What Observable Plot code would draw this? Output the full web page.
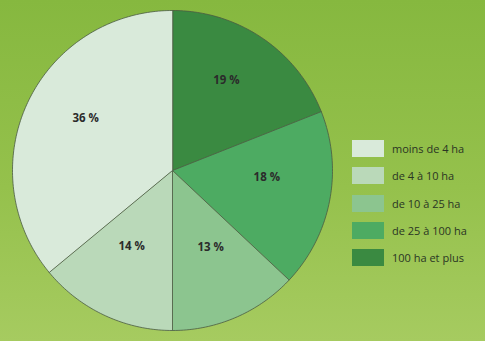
<!DOCTYPE html>
<html>
<head>
<meta charset="utf-8">
<script src="https://cdn.jsdelivr.net/npm/d3@7"></script>
<script src="https://cdn.jsdelivr.net/npm/@observablehq/plot@0.6"></script>
<style>
  html, body { margin: 0; padding: 0; }
  body { width: 485px; height: 341px; overflow: hidden;
    background: linear-gradient(to bottom, #86b83f 0%, #95c14c 55%, #a6cb60 100%); position: relative; }
  #chart { position: absolute; left: 0; top: 0; }
  #legend { position: absolute; left: 352px; top: 140px; font-family: "Open Sans", sans-serif; font-size: 11px; color: #2a3524; }
  .row { display: flex; align-items: center; height: 17px; margin-bottom: 10.3px; }
  .sw { width: 32px; height: 17px; margin-right: 8px; box-sizing: border-box; }
</style>
</head>
<body>
<div id="chart"></div>
<div id="legend"></div>
<script>
// Data (clockwise from 12 o'clock)
const categories = ["100 ha et plus", "de 25 à 100 ha", "de 10 à 25 ha", "de 4 à 10 ha", "moins de 4 ha"];
const values = [19, 18, 13, 14, 36];
const legendOrder = ["moins de 4 ha", "de 4 à 10 ha", "de 10 à 25 ha", "de 25 à 100 ha", "100 ha et plus"];
const colors = ["#3a8a41", "#4dab62", "#8cc58f", "#bad9b9", "#d9eada"];

const W = 485, H = 341, R = 160, CX = 172, CY = 170;
const total = d3.sum(values);

// Build slice outlines in unit-circle coordinates
const slices = [];
const labels = [];
let acc = 0;
categories.forEach((c, i) => {
  const a0 = acc / total * 2 * Math.PI;
  acc += values[i];
  const a1 = acc / total * 2 * Math.PI;
  slices.push({cat: c, x: 0, y: 0});
  const n = Math.max(2, Math.ceil((a1 - a0) / (Math.PI / 180)));
  for (let k = 0; k <= n; k++) {
    const a = a0 + (a1 - a0) * k / n;
    slices.push({cat: c, x: Math.sin(a), y: Math.cos(a)});
  }
  const am = (a0 + a1) / 2;
  const rl = 0.6;
  labels.push({cat: c, text: values[i] + " %", x: rl * Math.sin(am), y: rl * Math.cos(am)});
});

const plot = Plot.plot({
  width: W, height: H,
  margin: 0,
  style: {background: "transparent", overflow: "visible"},
  x: {domain: [-CX / R, (W - CX) / R], axis: null},
  y: {domain: [-(H - CY) / R, CY / R], axis: null},
  color: {domain: categories, range: colors},
  marks: [
    Plot.line(slices, {x: "x", y: "y", z: "cat", fill: "cat", stroke: "#4a5a42", strokeWidth: 0.8, curve: "linear-closed"}),
    Plot.text(labels, {x: "x", y: "y", dy: -11, text: "text", fill: "#2b2b2b", fontWeight: "bold", fontSize: 11.5, fontFamily: "Open Sans, sans-serif"})
  ]
});
document.getElementById("chart").appendChild(plot);

const color = plot.scale("color");
const leg = document.getElementById("legend");
legendOrder.forEach(c => {
  const row = document.createElement("div");
  row.className = "row";
  const sw = document.createElement("div");
  sw.className = "sw";
  sw.style.background = color.range[color.domain.indexOf(c)];
  const t = document.createElement("span");
  t.textContent = c;
  row.appendChild(sw); row.appendChild(t);
  leg.appendChild(row);
});
</script>
</body>
</html>
